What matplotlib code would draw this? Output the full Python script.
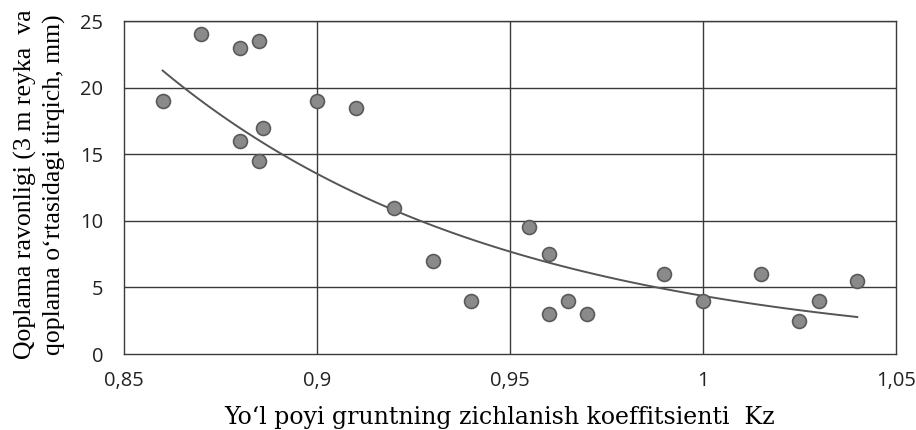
import matplotlib
matplotlib.use("Agg")
import matplotlib.pyplot as plt
import numpy as np

kz = [0.86, 0.87, 0.88, 0.885, 0.88, 0.886, 0.885, 0.90, 0.91, 0.92, 0.93, 0.94,
      0.955, 0.96, 0.96, 0.965, 0.97, 0.99, 1.00, 1.015, 1.025, 1.03, 1.04]
gap = [19, 24, 23, 23.5, 16, 17, 14.5, 19, 18.5, 11, 7, 4,
       9.5, 7.5, 3, 4, 3, 6, 4, 6, 2.5, 4, 5.5]

xticks = [0.85, 0.9, 0.95, 1.0, 1.05]
xtick_labels = ["0,85", "0,9", "0,95", "1", "1,05"]
yticks = [0, 5, 10, 15, 20, 25]

# exponential trendline (Excel style), fitted on the data
b, ln_a = np.polyfit(kz, np.log(gap), 1)
xs = np.linspace(min(kz), max(kz), 100)
trend = np.exp(ln_a) * np.exp(b * xs)

fig = plt.figure(figsize=(9.16, 4.30), dpi=100)
ax = fig.add_axes([0.1354, 0.1767, 0.8426, 0.7743])

for v in yticks[1:]:
    ax.axhline(v, color="#3a3a3a", lw=1.0, zorder=1)
for v in xticks[1:-1]:
    ax.axvline(v, color="#3a3a3a", lw=1.0, zorder=1)

ax.plot(xs, trend, color="#555555", lw=1.4, zorder=2)
ax.scatter(kz, gap, s=100, color="#8a8a8a", edgecolor="#5a5a5a", lw=1.2, zorder=3)

ax.set_xlim(0.85, 1.05)
ax.set_ylim(0, 25)
ax.set_xticks(xticks)
ax.set_xticklabels(xtick_labels)
ax.set_yticks(yticks)
ax.tick_params(length=0, labelsize=14.5)
ax.tick_params(axis="x", pad=12)
ax.tick_params(axis="y", pad=15)
for lab in ax.get_xticklabels() + ax.get_yticklabels():
    lab.set_family("Open Sans")
    lab.set_color("#222222")
for s in ax.spines.values():
    s.set_color("#3a3a3a")
    s.set_linewidth(1.0)

ax.set_xlabel("Yo‘l poyi gruntning zichlanish koeffitsienti  Kz",
              family="DejaVu Serif", fontsize=17)
ax.xaxis.set_label_coords(0.486, -0.155)
ax.set_ylabel("Qoplama ravonligi (3 m reyka  va\nqoplama o‘rtasidagi tirqich, mm)",
              family="Liberation Serif", fontsize=18.5, linespacing=1.35)
ax.yaxis.set_label_coords(-0.075, 0.51)

fig.savefig("out.png", dpi=100)
